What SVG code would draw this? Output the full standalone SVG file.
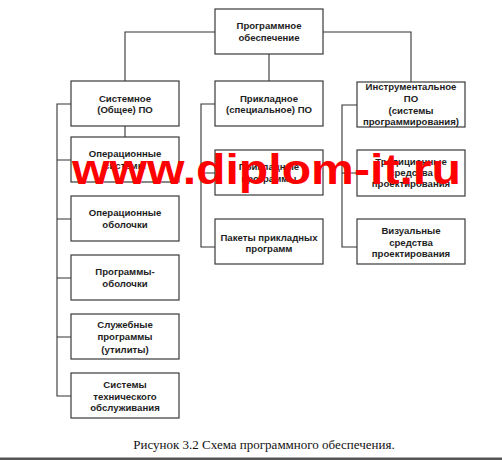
<svg xmlns="http://www.w3.org/2000/svg" width="502" height="460" viewBox="0 0 502 460">
<style>
.box{fill:#fff;stroke:#3a3a3a;stroke-width:1.2}
.ln{fill:none;stroke:#333;stroke-width:1.1}
.t{font-family:"Liberation Sans",Arial,sans-serif;font-weight:bold;font-size:9.6px;fill:#1e1e1e;text-anchor:middle}
.wm{font-family:"Liberation Sans",Arial,sans-serif;font-weight:bold;font-size:43px;fill:#f00}
.cap{font-family:"Liberation Serif","Times New Roman",serif;font-size:13px;fill:#111;text-anchor:middle}
</style>
<rect width="502" height="460" fill="#fff"/>
<g id="connectors">
<path class="ln" d="M125,81 V32 H215 M323,32 H411 V82 M269,54 V81"/>
<path class="ln" d="M125,126 V137"/>
<path class="ln" d="M71,104 H57 V396 H71 M57,160 H71 M57,219 H71 M57,278 H71 M57,337 H71"/>
<path class="ln" d="M215,104 H201 V247 H215 M201,173 H215"/>
<path class="ln" d="M357,105 H342 V247 H357 M342,173 H357"/>
</g>
<g id="n-root"><rect class="box" x="215" y="9" width="108" height="45"/><text class="t" x="269" y="28.5">Программное</text><text class="t" x="269" y="40.5">обеспечение</text></g>
<g id="n-system"><rect class="box" x="71" y="81" width="108" height="45"/><text class="t" x="125" y="101.5">Системное</text><text class="t" x="125" y="113">(Общее) ПО</text></g>
<g id="n-applied"><rect class="box" x="215" y="81" width="108" height="45"/><text class="t" x="269" y="101.5">Прикладное</text><text class="t" x="269" y="113">(специальное) ПО</text></g>
<g id="n-tools"><rect class="box" x="357" y="82" width="108" height="45"/><text class="t" x="411" y="89.5">Инструментальное</text><text class="t" x="411" y="101.5">ПО</text><text class="t" x="411" y="113.5">(системы</text><text class="t" x="411" y="125">программирования)</text></g>
<g id="n-os"><rect class="box" x="71" y="137" width="108" height="45"/><text class="t" x="125" y="156.5">Операционные</text><text class="t" x="125" y="168.5">системы</text></g>
<g id="n-shells"><rect class="box" x="71" y="196" width="108" height="45"/><text class="t" x="125" y="215.5">Операционные</text><text class="t" x="125" y="227.5">оболочки</text></g>
<g id="n-progshells"><rect class="box" x="71" y="255" width="108" height="45"/><text class="t" x="125" y="274.5">Программы-</text><text class="t" x="125" y="286.5">оболочки</text></g>
<g id="n-utils"><rect class="box" x="71" y="314" width="108" height="45"/><text class="t" x="125" y="327.5">Служебные</text><text class="t" x="125" y="340">программы</text><text class="t" x="125" y="352.5">(утилиты)</text></g>
<g id="n-maint"><rect class="box" x="71" y="373" width="108" height="45"/><text class="t" x="125" y="387.5">Системы</text><text class="t" x="125" y="399.5">технического</text><text class="t" x="125" y="411">обслуживания</text></g>
<g id="n-apps"><rect class="box" x="215" y="150" width="108" height="45"/><text class="t" x="269" y="169.5">Прикладные</text><text class="t" x="269" y="181.5">программы</text></g>
<g id="n-packs"><rect class="box" x="215" y="219" width="108" height="45"/><text class="t" x="269" y="241">Пакеты прикладных</text><text class="t" x="269" y="252">программ</text></g>
<g id="n-trad"><rect class="box" x="357" y="150" width="108" height="46"/><text class="t" x="411" y="164.5">Традиционные</text><text class="t" x="411" y="175.5">средства</text><text class="t" x="411" y="186.5">проектирования</text></g>
<g id="n-visual"><rect class="box" x="357" y="219" width="108" height="45"/><text class="t" x="411" y="233.5">Визуальные</text><text class="t" x="411" y="245.5">средства</text><text class="t" x="411" y="256.5">проектирования</text></g>
<text class="wm" x="72" y="184" textLength="389" lengthAdjust="spacingAndGlyphs">www.diplom-it.ru</text>
<text class="cap" x="264" y="449">Рисунок 3.2 Схема программного обеспечения.</text>
<rect x="0" y="457.5" width="502" height="2.5" fill="#555"/>
</svg>
